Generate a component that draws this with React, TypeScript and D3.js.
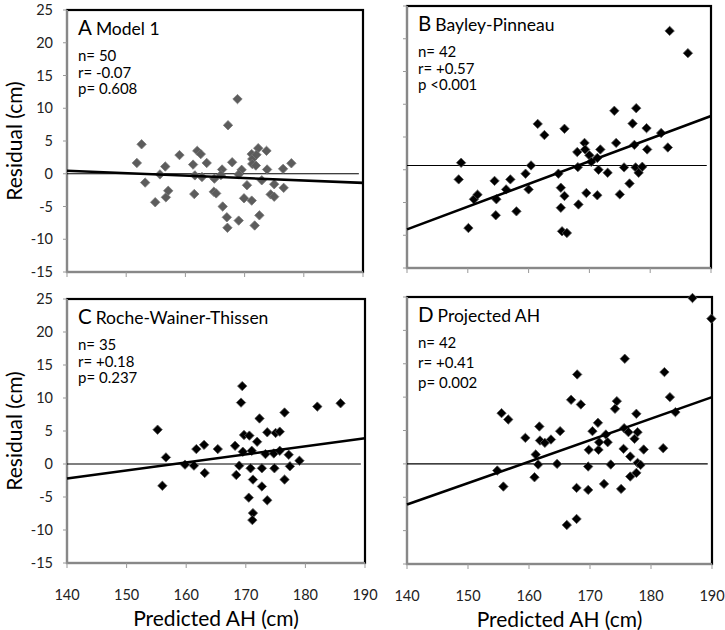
import React from "react";
import * as d3 from "d3";

// ---------- data ----------
const aX = [152.6,151.8,153.2,155.7,156.6,154.9,156.7,157.1,159.0,161.3,161.6,162.0,162.6,162.8,161.5,163.6,164.9,164.8,165.2,166.2,166.3,167.0,167.1,167.2,167.9,168.8,169.0,169.5,169.0,170.4,169.9,171.2,172.5,171.7,171.2,171.3,171.3,172.3,171.9,173.7,173.8,172.9,175.0,174.4,175.0,176.6,176.5,177.9,172.0,166.0];
const aY = [4.5,1.65,-1.35,-0.1,1.1,-4.35,-3.6,-2.6,2.85,1.4,-0.25,3.5,3.0,-0.5,-3.1,1.65,-0.75,-2.75,-3.0,0.65,-5.0,-6.65,-8.25,7.4,1.75,11.4,-7.15,0.6,-0.1,-1.75,-3.75,-4.1,-6.35,-7.9,3.0,2.25,1.5,3.9,1.25,3.5,0.65,-1.0,-1.6,-3.15,-3.5,-2.15,0.75,1.6,2.9,-0.2];

const bX = [148.9,148.5,150.1,151.0,151.6,154.4,154.7,154.6,156.3,157.0,158.0,159.5,160.0,160.4,161.5,162.6,164.9,165.3,165.9,165.3,165.5,166.3,165.9,168.0,169.2,169.3,168.1,168.2,169.5,170.0,170.3,171.3,171.8,171.5,171.3,173.0,174.1,174.4,175.0,175.7,176.6,177.1,177.4,177.7,177.6,178.1,178.7,179.4,179.5,181.8,182.9,183.2,186.2];
const bY = [1.07,-1.47,-8.9,-4.5,-3.8,-1.7,-4.5,-6.95,-3.0,-1.47,-6.35,-0.6,-3.0,0.66,7.0,5.3,-0.6,-2.74,-4.0,-5.8,-9.4,-9.65,6.25,2.7,4.1,3.1,0.4,-5.3,-3.55,2.2,1.2,1.8,3.1,0.0,-3.9,-0.46,9.0,4.1,-3.76,0.36,-2.1,7.05,3.8,9.4,0.36,-0.46,0.46,6.35,3.1,5.6,3.4,21.2,17.8];

const cX = [155.2,156.6,156.0,159.8,161.3,161.7,163.0,163.1,165.3,168.2,168.4,168.9,169.5,169.7,169.2,169.4,170.6,171.0,170.8,171.2,170.5,171.2,171.1,171.9,172.3,172.7,172.7,173.3,173.6,173.6,174.7,174.8,175.0,175.7,175.7,176.5,176.5,177.2,177.4,179.0,182.0,185.9];
const cY = [5.2,1.0,-3.3,-0.1,-0.25,2.26,2.9,-1.36,2.26,2.76,-1.66,-0.25,1.86,4.4,9.3,11.8,4.3,2.0,-0.65,-2.36,-5.1,-7.44,-8.5,3.37,6.9,-0.65,-3.4,1.5,4.8,-5.5,1.6,-0.65,4.7,4.9,2.0,7.8,-2.36,1.4,-0.35,0.5,8.7,9.2];

const dX = [154.8,155.8,155.5,156.6,159.4,160.9,161.1,161.5,161.7,161.8,162.6,163.6,164.6,165.1,166.2,166.9,167.8,167.8,167.9,168.5,169.7,169.8,169.7,170.4,171.3,171.4,171.5,172.3,172.6,172.9,173.4,174.1,174.4,175.1,175.5,175.7,175.6,176.3,176.6,177.3,177.6,177.8,177.8,176.6,177.6,178.3,178.8,182.0,182.2,183.1,184.0,186.8,189.9];
const dY = [-1.0,-3.4,7.6,6.65,3.9,-2.0,1.4,-0.1,5.6,3.5,3.15,3.65,0.0,4.9,-9.15,9.6,-8.25,-3.6,13.4,8.9,-0.4,2.1,-3.9,4.9,6.15,2.1,3.25,-3.0,4.4,3.25,-0.1,8.25,9.4,-3.75,2.25,15.75,5.35,4.75,1.1,3.75,7.5,4.75,0.15,-1.9,-1.35,-0.15,2.15,2.35,13.75,10.0,7.75,24.85,21.75];

// regression line end values at x = 140 and x = 190
const fitA = [0.45, -1.4];
const fitB = [-9.1, 8.2];
const fitC = [-2.2, 3.9];
const fitD = [-6.1, 10.0];

// horizontal reference line value per panel
const refLines = [0, 0.65, 0, 0];

const panelLetters = ["A", "B", "C", "D"];
const panelNames = ["Model 1", "Bayley-Pinneau", "Roche-Wainer-Thissen", "Projected AH"];
const statN = ["n= 50", "n= 42", "n= 35", "n= 42"];
const statR = ["r= -0.07", "r= +0.57", "r= +0.18", "r= +0.41"];
const statP = ["p= 0.608", "p <0.001", "p= 0.237", "p= 0.002"];

const yTicks = [-15, -10, -5, 0, 5, 10, 15, 20, 25];
const xTicks = [140, 150, 160, 170, 180, 190];
const yTitle = "Residual (cm)";
const xTitle = "Predicted AH (cm)";

// ---------- layout ----------
const FONT = "Lato, 'Open Sans', sans-serif";
const boxes = [
  { x0: 67, x1: 363, y0: 10, y1: 272, fill: "#5c5c5c", left: true, bottom: false, statGap: 16.5 },
  { x0: 407, x1: 711, y0: 6, y1: 268, fill: "#000", left: false, bottom: false, statGap: 16.5 },
  { x0: 67, x1: 365, y0: 299, y1: 563, fill: "#000", left: true, bottom: true, statGap: 16.5 },
  { x0: 407, x1: 712, y0: 297, y1: 564, fill: "#000", left: false, bottom: true, statGap: 20 },
];
const xs = [aX, bX, cX, dX];
const ys = [aY, bY, cY, dY];
const fits = [fitA, fitB, fitC, fitD];

function Panel({ i }: { i: number }) {
  const b = boxes[i];
  const x = d3.scaleLinear().domain([140, 190]).range([b.x0, b.x1]);
  const y = d3.scaleLinear().domain([-15, 25]).range([b.y1, b.y0]);
  const line = d3.line<[number, number]>().x((d) => x(d[0])).y((d) => y(d[1]));
  const fit: [number, number][] = [[140, fits[i][0]], [190, fits[i][1]]];
  const ref: [number, number][] = [[140, refLines[i]], [189.3, refLines[i]]];
  const s = 4.7;
  const diamond = `M0,${-s}L${s},0L0,${s}L${-s},0Z`;
  return (
    <g>
      <rect x={b.x0} y={b.y0} width={b.x1 - b.x0} height={b.y1 - b.y0} fill="#fff" stroke="#000" strokeWidth={2.2} />
      <line x1={b.x0} x2={b.x0} y1={b.y0} y2={b.y1 + 1} stroke="#888" strokeWidth={2} />
      <line x1={b.x0 - 1} x2={b.x1} y1={b.y1} y2={b.y1} stroke="#888" strokeWidth={2} />
      {yTicks.map((t) => (
        <line key={"yt" + t} x1={b.x0 - 4} x2={b.x0} y1={y(t)} y2={y(t)} stroke="#999" strokeWidth={1} />
      ))}
      {xTicks.map((t) => (
        <line key={"xt" + t} x1={x(t)} x2={x(t)} y1={b.y1} y2={b.y1 + 5} stroke="#999" strokeWidth={1} />
      ))}
      {b.left &&
        yTicks.map((t) => (
          <text key={"yl" + t} x={b.x0 - 14} y={y(t)} dy="0.36em" textAnchor="end" fontSize={14.5} fontFamily={FONT} fill="#222">
            {t}
          </text>
        ))}
      {b.bottom &&
        xTicks.map((t) => (
          <text key={"xl" + t} x={x(t)} y={b.y1 + 37} textAnchor="middle" fontSize={14.5} fontFamily={FONT} fill="#222">
            {t}
          </text>
        ))}
      <path d={line(ref) || ""} stroke="#000" strokeWidth={1.2} fill="none" />
      <g>
        {xs[i].map((v, k) => (
          <path key={k} d={diamond} transform={`translate(${x(v)},${y(ys[i][k])})`} fill={b.fill} stroke={i === 0 ? "#777" : "#555"} strokeWidth={0.8} />
        ))}
      </g>
      <path d={line(fit) || ""} stroke="#000" strokeWidth={2.6} fill="none" />
      <text x={b.x0 + 11} y={b.y0 + 25} fontFamily={FONT} fill="#000">
        <tspan fontSize={20.5}>{panelLetters[i]}</tspan>
        <tspan fontSize={17.5} dx={4}>{panelNames[i]}</tspan>
      </text>
      {[statN[i], statR[i], statP[i]].map((s2, k) => (
        <text key={k} x={b.x0 + 11} y={b.y0 + 51 + k * b.statGap} fontSize={15} fontFamily={FONT} fill="#000">
          {s2}
        </text>
      ))}
      {b.left && (
        <text transform={`translate(${22},${(b.y0 + b.y1) / 2}) rotate(-90)`} textAnchor="middle" fontSize={21} fontFamily={FONT} fill="#000">
          {yTitle}
        </text>
      )}
      {b.bottom && (
        <text x={(b.x0 + b.x1) / 2} y={b.y1 + 63} textAnchor="middle" fontSize={21} fontFamily={FONT} fill="#000">
          {xTitle}
        </text>
      )}
    </g>
  );
}

export default function App() {
  return (
    <svg width={725} height={630} style={{ position: "absolute", left: 0, top: 0, background: "#fff" }}>
      {[0, 1, 2, 3].map((i) => (
        <Panel key={i} i={i} />
      ))}
    </svg>
  );
}
